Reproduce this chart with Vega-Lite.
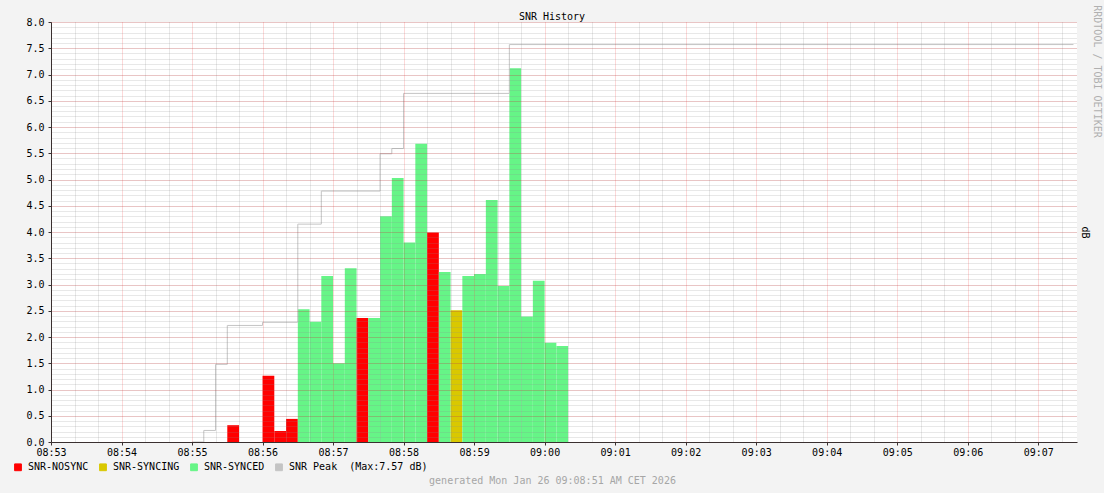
{
  "$schema": "https://vega.github.io/schema/vega-lite/v6.json",
  "width": 1026,
  "height": 420,
  "autosize": {"type": "none"},
  "padding": {"left": 51, "top": 22, "right": 27, "bottom": 51},
  "background": "#F3F3F3",
  "title": {
    "text": "SNR History",
    "font": "DejaVu Sans Mono",
    "fontSize": 10,
    "fontWeight": "normal",
    "color": "#000000",
    "anchor": "middle",
    "dx": -12,
    "offset": -17
  },
  "config": {
    "view": {"fill": "#FFFFFF", "stroke": null},
    "font": "DejaVu Sans Mono",
    "legend": {
      "orient": "none",
      "legendX": -38,
      "legendY": 440,
      "direction": "horizontal",
      "title": null,
      "symbolType": "square",
      "symbolSize": 46,
      "symbolStrokeWidth": 1,
      "symbolStrokeColor": "#000000",
      "labelFont": "DejaVu Sans Mono",
      "labelFontSize": 10,
      "labelColor": "#000000",
      "labelOffset": 5,
      "columnPadding": 8
    }
  },
  "datasets": {
    "bars": [
      {"t": "2026-01-26T08:55:30", "t2": "2026-01-26T08:55:40", "snr": 0.32, "state": "SNR-NOSYNC"},
      {"t": "2026-01-26T08:56:00", "t2": "2026-01-26T08:56:10", "snr": 1.26, "state": "SNR-NOSYNC"},
      {"t": "2026-01-26T08:56:10", "t2": "2026-01-26T08:56:20", "snr": 0.21, "state": "SNR-NOSYNC"},
      {"t": "2026-01-26T08:56:20", "t2": "2026-01-26T08:56:30", "snr": 0.44, "state": "SNR-NOSYNC"},
      {"t": "2026-01-26T08:56:30", "t2": "2026-01-26T08:56:40", "snr": 2.53, "state": "SNR-SYNCED"},
      {"t": "2026-01-26T08:56:40", "t2": "2026-01-26T08:56:50", "snr": 2.29, "state": "SNR-SYNCED"},
      {"t": "2026-01-26T08:56:50", "t2": "2026-01-26T08:57:00", "snr": 3.16, "state": "SNR-SYNCED"},
      {"t": "2026-01-26T08:57:00", "t2": "2026-01-26T08:57:10", "snr": 1.50, "state": "SNR-SYNCED"},
      {"t": "2026-01-26T08:57:10", "t2": "2026-01-26T08:57:20", "snr": 3.31, "state": "SNR-SYNCED"},
      {"t": "2026-01-26T08:57:20", "t2": "2026-01-26T08:57:30", "snr": 2.36, "state": "SNR-NOSYNC"},
      {"t": "2026-01-26T08:57:30", "t2": "2026-01-26T08:57:40", "snr": 2.36, "state": "SNR-SYNCED"},
      {"t": "2026-01-26T08:57:40", "t2": "2026-01-26T08:57:50", "snr": 4.30, "state": "SNR-SYNCED"},
      {"t": "2026-01-26T08:57:50", "t2": "2026-01-26T08:58:00", "snr": 5.03, "state": "SNR-SYNCED"},
      {"t": "2026-01-26T08:58:00", "t2": "2026-01-26T08:58:10", "snr": 3.80, "state": "SNR-SYNCED"},
      {"t": "2026-01-26T08:58:10", "t2": "2026-01-26T08:58:20", "snr": 5.68, "state": "SNR-SYNCED"},
      {"t": "2026-01-26T08:58:20", "t2": "2026-01-26T08:58:30", "snr": 3.99, "state": "SNR-NOSYNC"},
      {"t": "2026-01-26T08:58:30", "t2": "2026-01-26T08:58:40", "snr": 3.24, "state": "SNR-SYNCED"},
      {"t": "2026-01-26T08:58:40", "t2": "2026-01-26T08:58:50", "snr": 2.51, "state": "SNR-SYNCING"},
      {"t": "2026-01-26T08:58:50", "t2": "2026-01-26T08:59:00", "snr": 3.16, "state": "SNR-SYNCED"},
      {"t": "2026-01-26T08:59:00", "t2": "2026-01-26T08:59:10", "snr": 3.20, "state": "SNR-SYNCED"},
      {"t": "2026-01-26T08:59:10", "t2": "2026-01-26T08:59:20", "snr": 4.61, "state": "SNR-SYNCED"},
      {"t": "2026-01-26T08:59:20", "t2": "2026-01-26T08:59:30", "snr": 2.97, "state": "SNR-SYNCED"},
      {"t": "2026-01-26T08:59:30", "t2": "2026-01-26T08:59:40", "snr": 7.12, "state": "SNR-SYNCED"},
      {"t": "2026-01-26T08:59:40", "t2": "2026-01-26T08:59:50", "snr": 2.39, "state": "SNR-SYNCED"},
      {"t": "2026-01-26T08:59:50", "t2": "2026-01-26T09:00:00", "snr": 3.07, "state": "SNR-SYNCED"},
      {"t": "2026-01-26T09:00:00", "t2": "2026-01-26T09:00:10", "snr": 1.89, "state": "SNR-SYNCED"},
      {"t": "2026-01-26T09:00:10", "t2": "2026-01-26T09:00:20", "snr": 1.83, "state": "SNR-SYNCED"}
    ],
    "peak": [
      {"t": "2026-01-26T08:55:00", "peak": 0, "state": "SNR Peak"},
      {"t": "2026-01-26T08:55:10", "peak": 0.22, "state": "SNR Peak"},
      {"t": "2026-01-26T08:55:20", "peak": 1.48, "state": "SNR Peak"},
      {"t": "2026-01-26T08:55:30", "peak": 2.22, "state": "SNR Peak"},
      {"t": "2026-01-26T08:56:00", "peak": 2.28, "state": "SNR Peak"},
      {"t": "2026-01-26T08:56:30", "peak": 4.15, "state": "SNR Peak"},
      {"t": "2026-01-26T08:56:50", "peak": 4.78, "state": "SNR Peak"},
      {"t": "2026-01-26T08:57:40", "peak": 5.49, "state": "SNR Peak"},
      {"t": "2026-01-26T08:57:50", "peak": 5.59, "state": "SNR Peak"},
      {"t": "2026-01-26T08:58:00", "peak": 6.64, "state": "SNR Peak"},
      {"t": "2026-01-26T08:59:30", "peak": 7.57, "state": "SNR Peak"},
      {"t": "2026-01-26T09:07:30", "peak": 7.57, "state": "SNR Peak"}
    ]
  },
  "layer": [
    {
      "data": {"name": "bars"},
      "mark": {"type": "rect"},
      "encoding": {
        "x": {
          "field": "t",
          "type": "temporal",
          "scale": {"domain": [{"year": 2026, "month": 1, "date": 26, "hours": 8, "minutes": 53, "seconds": 0}, {"year": 2026, "month": 1, "date": 26, "hours": 9, "minutes": 7, "seconds": 33}], "nice": false},
          "axis": {
            "orient": "bottom",
            "values": [
              {"year": 2026, "month": 1, "date": 26, "hours": 8, "minutes": 53, "seconds": 20},
              {"year": 2026, "month": 1, "date": 26, "hours": 8, "minutes": 53, "seconds": 40},
              {"year": 2026, "month": 1, "date": 26, "hours": 8, "minutes": 54, "seconds": 20},
              {"year": 2026, "month": 1, "date": 26, "hours": 8, "minutes": 54, "seconds": 40},
              {"year": 2026, "month": 1, "date": 26, "hours": 8, "minutes": 55, "seconds": 20},
              {"year": 2026, "month": 1, "date": 26, "hours": 8, "minutes": 55, "seconds": 40},
              {"year": 2026, "month": 1, "date": 26, "hours": 8, "minutes": 56, "seconds": 20},
              {"year": 2026, "month": 1, "date": 26, "hours": 8, "minutes": 56, "seconds": 40},
              {"year": 2026, "month": 1, "date": 26, "hours": 8, "minutes": 57, "seconds": 20},
              {"year": 2026, "month": 1, "date": 26, "hours": 8, "minutes": 57, "seconds": 40},
              {"year": 2026, "month": 1, "date": 26, "hours": 8, "minutes": 58, "seconds": 20},
              {"year": 2026, "month": 1, "date": 26, "hours": 8, "minutes": 58, "seconds": 40},
              {"year": 2026, "month": 1, "date": 26, "hours": 8, "minutes": 59, "seconds": 20},
              {"year": 2026, "month": 1, "date": 26, "hours": 8, "minutes": 59, "seconds": 40},
              {"year": 2026, "month": 1, "date": 26, "hours": 9, "minutes": 0, "seconds": 20},
              {"year": 2026, "month": 1, "date": 26, "hours": 9, "minutes": 0, "seconds": 40},
              {"year": 2026, "month": 1, "date": 26, "hours": 9, "minutes": 1, "seconds": 20},
              {"year": 2026, "month": 1, "date": 26, "hours": 9, "minutes": 1, "seconds": 40},
              {"year": 2026, "month": 1, "date": 26, "hours": 9, "minutes": 2, "seconds": 20},
              {"year": 2026, "month": 1, "date": 26, "hours": 9, "minutes": 2, "seconds": 40},
              {"year": 2026, "month": 1, "date": 26, "hours": 9, "minutes": 3, "seconds": 20},
              {"year": 2026, "month": 1, "date": 26, "hours": 9, "minutes": 3, "seconds": 40},
              {"year": 2026, "month": 1, "date": 26, "hours": 9, "minutes": 4, "seconds": 20},
              {"year": 2026, "month": 1, "date": 26, "hours": 9, "minutes": 4, "seconds": 40},
              {"year": 2026, "month": 1, "date": 26, "hours": 9, "minutes": 5, "seconds": 20},
              {"year": 2026, "month": 1, "date": 26, "hours": 9, "minutes": 5, "seconds": 40},
              {"year": 2026, "month": 1, "date": 26, "hours": 9, "minutes": 6, "seconds": 20},
              {"year": 2026, "month": 1, "date": 26, "hours": 9, "minutes": 6, "seconds": 40},
              {"year": 2026, "month": 1, "date": 26, "hours": 9, "minutes": 7, "seconds": 20}
            ],
            "grid": true,
            "gridColor": "#8F8F8F",
            "gridOpacity": 0.4,
            "gridDash": [1, 1],
            "domain": false,
            "ticks": false,
            "labels": false,
            "title": "generated Mon Jan 26 09:08:51 AM CET 2026",
            "titleX": 501,
            "titleY": 41,
            "titleAlign": "center",
            "titleBaseline": "alphabetic",
            "titleColor": "#A6A6A6",
            "titleFont": "DejaVu Sans Mono",
            "titleFontSize": 10,
            "titleFontWeight": "normal",
            "zindex": 1
          }
        },
        "x2": {"field": "t2"},
        "y": {
          "field": "snr",
          "type": "quantitative",
          "scale": {"domain": [0, 8], "nice": false},
          "axis": {
            "orient": "left",
            "tickCount": 80,
            "grid": true,
            "gridColor": "#8F8F8F",
            "gridOpacity": 0.4,
            "gridDash": [1, 1],
            "domain": false,
            "ticks": false,
            "labels": false,
            "title": "RRDTOOL / TOBI OETIKER",
            "titleX": 1045,
            "titleY": 49,
            "titleAngle": 90,
            "titleAlign": "center",
            "titleBaseline": "middle",
            "titleColor": "#B0B0B0",
            "titleFont": "DejaVu Sans Mono",
            "titleFontSize": 10,
            "titleFontWeight": "normal",
            "zindex": 1
          }
        },
        "y2": {"datum": 0},
        "color": {
          "field": "state",
          "type": "nominal",
          "scale": {
            "domain": ["SNR-NOSYNC", "SNR-SYNCING", "SNR-SYNCED", "SNR Peak"],
            "range": ["#FF0000", "#D9C800", "#66F587", "#C4C4C4"]
          },
          "legend": {
            "labelExpr": "datum.label == 'SNR Peak' ? 'SNR Peak\u00a0 (Max:7.57 dB)' : datum.label",
            "encode": {
              "symbols": {
                "update": {
                  "stroke": {"value": "#000000"},
                  "strokeWidth": {"value": 1},
                  "strokeOpacity": {"value": 1}
                }
              }
            }
          }
        }
      }
    },
    {
      "data": {"name": "peak"},
      "mark": {"type": "line", "interpolate": "step-after", "strokeWidth": 1},
      "encoding": {
        "x": {
          "field": "t",
          "type": "temporal",
          "scale": {"domain": [{"year": 2026, "month": 1, "date": 26, "hours": 8, "minutes": 53, "seconds": 0}, {"year": 2026, "month": 1, "date": 26, "hours": 9, "minutes": 7, "seconds": 33}], "nice": false},
          "axis": {
            "orient": "bottom",
            "tickCount": 15,
            "format": "%H:%M",
            "grid": true,
            "gridColor": "#F00000",
            "gridOpacity": 0.3,
            "gridDash": [1, 1],
            "domain": true,
            "domainColor": "#3A3030",
            "ticks": true,
            "tickColor": "#3A3030",
            "tickSize": 3,
            "labelPadding": 2,
            "labelFlush": false,
            "labelOverlap": false,
            "labelColor": "#000000",
            "labelFont": "DejaVu Sans Mono",
            "labelFontSize": 10,
            "title": null,
            "zindex": 1
          }
        },
        "y": {
          "field": "peak",
          "type": "quantitative",
          "scale": {"domain": [0, 8], "nice": false},
          "axis": {
            "orient": "left",
            "tickCount": 16,
            "format": ".1f",
            "grid": true,
            "gridColor": "#F00000",
            "gridOpacity": 0.3,
            "gridDash": [1, 1],
            "domain": true,
            "domainColor": "#3A3030",
            "ticks": true,
            "tickColor": "#3A3030",
            "tickSize": 3,
            "labelPadding": 4,
            "labelColor": "#000000",
            "labelFont": "DejaVu Sans Mono",
            "labelFontSize": 10,
            "title": "dB",
            "titleX": 1033,
            "titleY": 210,
            "titleAngle": 90,
            "titleAlign": "center",
            "titleBaseline": "middle",
            "titleColor": "#000000",
            "titleFont": "DejaVu Sans Mono",
            "titleFontSize": 10,
            "titleFontWeight": "normal",
            "zindex": 1
          }
        },
        "color": {
          "field": "state",
          "type": "nominal",
          "legend": {
            "labelExpr": "datum.label == 'SNR Peak' ? 'SNR Peak\u00a0 (Max:7.57 dB)' : datum.label",
            "encode": {
              "symbols": {
                "update": {
                  "stroke": {"value": "#000000"},
                  "strokeWidth": {"value": 1},
                  "strokeOpacity": {"value": 1}
                }
              }
            }
          }
        }
      }
    }
  ],
  "resolve": {"axis": {"x": "independent", "y": "independent"}}
}
